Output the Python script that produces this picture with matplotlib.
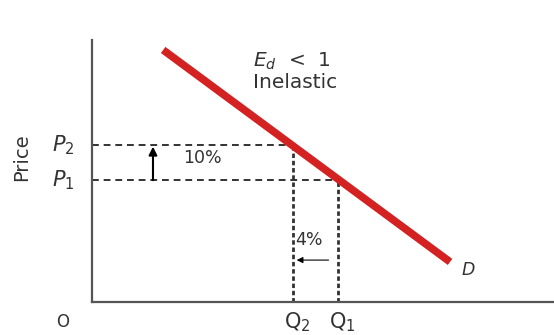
import matplotlib.pyplot as plt

plt.rcParams['font.family'] = ['DejaVu Sans']

# demand curve end points (quantity, price)
demand_q = [15.4, 77.5]
demand_p = [96.2, 15.3]
# the two price / quantity points
prices = [46.5, 59.8]      # P1, P2
quantities = [53.2, 43.5]  # Q1, Q2
price_labels = ['$P_1$', '$P_2$']
qty_labels = [r'$\mathrm{Q}_1$', r'$\mathrm{Q}_2$']

ink = '#333333'

fig = plt.figure(figsize=(5.54, 3.35), dpi=100)
ax = fig.add_axes([92/554, 33/335, 462/554, 262/335])
ax.set_xlim(0, 100)
ax.set_ylim(0, 100)
for s in ['top', 'right']:
    ax.spines[s].set_visible(False)
for s in ['left', 'bottom']:
    ax.spines[s].set_color('#555555')
    ax.spines[s].set_linewidth(1.6)
ax.set_xticks([])
ax.set_yticks([])

# dashed guides
for q, p in zip(quantities, prices):
    ax.plot([0, q], [p, p], ls=(0, (3.5, 2.5)), color=ink, lw=1.4, clip_on=False)
    ax.plot([q, q], [0, p], ls=(0, (1.6, 1.0)), color=ink, lw=2.0, clip_on=False)

ax.plot(demand_q, demand_p, color='#d42222', lw=5.5, solid_capstyle='butt', zorder=3)

# labels on axes
for p, lab in zip(prices, price_labels):
    ax.text(-6.2, p, lab, ha='center', va='center', fontsize=15, color=ink, clip_on=False)
for q, lab in zip(quantities, qty_labels):
    ax.text(q + 1.0, -7.8, lab, ha='center', va='center', fontsize=15, color=ink)
ax.text(-6.3, -7.6, 'O', ha='center', va='center', fontsize=12, color=ink)
ax.text(-15.2, 55.3, 'Price', rotation=90, ha='center', va='center', fontsize=14, color=ink)

# change arrows
ax.annotate('', xy=(13.2, prices[1] - 0.5), xytext=(13.2, prices[0]),
            arrowprops=dict(arrowstyle='-|>', color='black', lw=1.5, mutation_scale=12,
                            shrinkA=0, shrinkB=0))
ax.text(19.7, 55, '10%', ha='left', va='center', fontsize=12.5, color=ink)
ax.annotate('', xy=(quantities[1] + 0.8, 16), xytext=(quantities[0] - 2, 16),
            arrowprops=dict(arrowstyle='-|>', color='black', lw=0.8, mutation_scale=9,
                            shrinkA=0, shrinkB=0))
ax.text(quantities[1] + 0.4, 23.7, '4%', ha='left', va='center', fontsize=12.5, color=ink)

ax.text(34.8, 92, '$E_d$  <  1', ha='left', va='center', fontsize=14.5, color=ink)
ax.text(34.8, 83.6, 'Inelastic', ha='left', va='center', fontsize=14.5, color=ink)
ax.text(80, 12.2, 'D', ha='left', va='center', fontsize=12.5, style='italic', color=ink)

fig.savefig('out.png', dpi=100)
